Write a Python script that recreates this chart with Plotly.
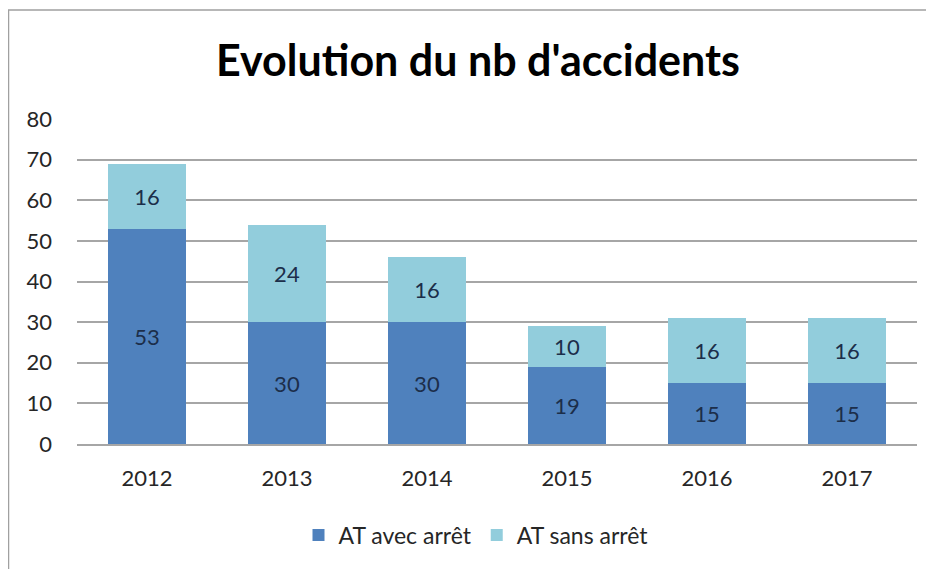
import plotly.graph_objects as go

years = ["2012", "2013", "2014", "2015", "2016", "2017"]
avec_arret = [53, 30, 30, 19, 15, 15]
sans_arret = [16, 24, 16, 10, 16, 16]
y_ticks = [0, 10, 20, 30, 40, 50, 60, 70, 80]

FONT = "Lato"
# page body has an 8px margin; figure coordinates are shifted accordingly
OFF = 8
W, H = 934 - OFF, 569 - OFF
ML, MR, MT, MB = 69, 17, 111, 125
pw = W - ML - MR
ph = H - MT - MB

def px_to_paper_x(px):
    return (px - OFF - ML) / pw

def px_to_paper_y(py):
    return (H - MB - (py - OFF)) / ph

fig = go.Figure()
fig.add_trace(go.Bar(
    x=years, y=avec_arret, name="AT avec arrêt",
    marker=dict(color="#4F81BD", line=dict(width=0)),
    text=avec_arret, textposition="inside", insidetextanchor="middle",
    textfont=dict(family=FONT, size=22, color="#1C2E4A"),
))
fig.add_trace(go.Bar(
    x=years, y=sans_arret, name="AT sans arrêt",
    marker=dict(color="#92CDDC", line=dict(width=0)),
    text=sans_arret, textposition="inside", insidetextanchor="middle",
    textfont=dict(family=FONT, size=22, color="#1C2E4A"),
))

fig.update_layout(
    width=W, height=H,
    barmode="stack", bargap=0.44,
    margin=dict(l=ML, r=MR, t=MT, b=MB),
    paper_bgcolor="white", plot_bgcolor="white",
    font=dict(family=FONT, color="#262626"),
    title=dict(text="<b>Evolution du nb d'accidents</b>",
               x=(478 - OFF) / W, xanchor="center", xref="container",
               y=1 - (61 - OFF) / H, yanchor="middle", yref="container",
               font=dict(family=FONT, size=43, color="#000000")),
    legend=dict(orientation="h", x=px_to_paper_x(476), xanchor="center",
                y=px_to_paper_y(535), yanchor="middle",
                font=dict(family=FONT, size=23, color="#262626"),
                itemwidth=30, traceorder="normal"),
    showlegend=True,
)
fig.update_xaxes(showgrid=False, showline=True, linecolor="#A6A6A6", linewidth=1.5,
                 ticks="", tickfont=dict(family=FONT, size=22, color="#262626"),
                 ticklabelstandoff=14)
fig.update_yaxes(range=[0, 80], tickvals=y_ticks, showgrid=True,
                 gridcolor="#A6A6A6", gridwidth=1.5, zeroline=False, showline=False,
                 ticks="", tickfont=dict(family=FONT, size=22, color="#262626"),
                 ticklabelstandoff=24)

fig.add_shape(type="rect", xref="paper", yref="paper",
              x0=px_to_paper_x(8.5), x1=px_to_paper_x(945),
              y0=px_to_paper_y(580), y1=px_to_paper_y(10),
              line=dict(color="#A0A0A0", width=1.5), fillcolor="rgba(0,0,0,0)",
              layer="below")

fig.write_html("out.html")
